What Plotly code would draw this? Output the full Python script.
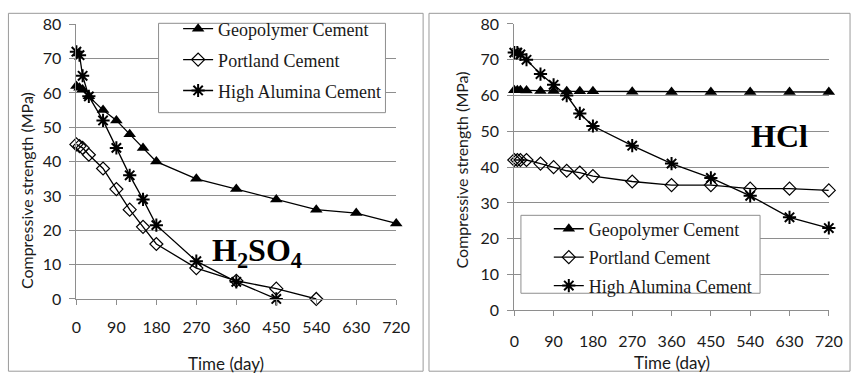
import plotly.graph_objects as go

W, H = 866, 384

# Exposure time (days) and compressive strength (MPa) in H2SO4
days_h2so4_geo = [0, 7, 14, 28, 60, 90, 120, 150, 180, 270, 360, 450, 540, 630, 720]
geo_h2so4 = [62, 61.5, 61, 59, 55, 52, 48, 44, 40, 35, 32, 29, 26, 25, 22]
days_h2so4_opc = [0, 7, 14, 28, 60, 90, 120, 150, 180, 270, 360, 450, 540]
opc_h2so4 = [45, 44.5, 44, 42, 38, 32, 26, 21, 16, 9, 5.3, 3, 0]
days_h2so4_hac = [0, 7, 14, 28, 60, 90, 120, 150, 180, 270, 360, 450]
hac_h2so4 = [72, 71, 65, 59, 52, 44, 36, 29, 21.5, 11, 5, 0]

# Exposure time (days) and compressive strength (MPa) in HCl
days_hcl = [0, 7, 14, 28, 60, 90, 120, 150, 180, 270, 360, 450, 540, 630, 720]
geo_hcl = [61.5, 61.5, 61.5, 61.4, 61.3, 61.3, 61.2, 61.2, 61.2, 61.1, 61, 61, 61, 61, 61]
opc_hcl = [42, 42, 42, 42, 41, 40, 39, 38.5, 37.5, 36, 35, 35, 34, 34, 33.5]
hac_hcl = [72, 72, 71.5, 70, 66, 63, 60, 55, 51.5, 46, 41, 37, 32, 26, 23]

series_names = ["Geopolymer Cement", "Portland Cement", "High Alumina Cement"]
x_ticks = [0, 90, 180, 270, 360, 450, 540, 630, 720]

GRID = "#8e8e8e"
TEXT = "#1a1a1a"
SANS = "Lato, Carlito, Calibri, sans-serif"
SERIF = "Liberation Serif, Cambria, serif"


def px_x(p):
    return p / W


def px_y(p):
    return 1 - p / H


markers = [
    dict(symbol="triangle-up", size=11, color="black", line=dict(width=0)),
    dict(symbol="diamond-open", size=10, color="black", line=dict(width=1.2)),
    dict(symbol="asterisk-open", size=11, color="black", line=dict(width=2)),
]

fig = go.Figure()

left = [(days_h2so4_geo, geo_h2so4), (days_h2so4_opc, opc_h2so4), (days_h2so4_hac, hac_h2so4)]
right = [(days_hcl, geo_hcl), (days_hcl, opc_hcl), (days_hcl, hac_hcl)]

for i, (xs, ys) in enumerate(left):
    fig.add_trace(go.Scatter(
        x=xs, y=ys, name=series_names[i], mode="lines+markers",
        line=dict(color="black", width=1.3), marker=markers[i],
        xaxis="x", yaxis="y", legend="legend", legendgroup=f"a{i}",
        cliponaxis=False,
    ))

for i, (xs, ys) in enumerate(right):
    fig.add_trace(go.Scatter(
        x=xs, y=ys, name=series_names[i], mode="lines+markers",
        line=dict(color="black", width=1.3), marker=markers[i],
        xaxis="x2", yaxis="y2", legend="legend2", legendgroup=f"b{i}",
        cliponaxis=False,
    ))

axis_common = dict(
    showgrid=False, showline=True, linecolor=GRID, linewidth=1,
    ticks="outside", ticklen=5, tickcolor=GRID, tickwidth=1,
    tickfont=dict(family=SANS, size=16, color=TEXT),
    zeroline=False, fixedrange=True,
)
yaxis_common = dict(
    range=[0, 80], dtick=10, showgrid=True, gridcolor=GRID, gridwidth=1,
    showline=True, linecolor=GRID, linewidth=1,
    ticks="outside", ticklen=6, tickcolor=GRID, ticklabelstandoff=5,
    tickfont=dict(family=SANS, size=16, color=TEXT),
    zeroline=False, fixedrange=True,
)

fig.update_layout(
    width=W, height=H, margin=dict(l=0, r=0, t=0, b=0),
    paper_bgcolor="white", plot_bgcolor="white",
    showlegend=True,
    xaxis=dict(domain=[px_x(73), px_x(400)], range=[0, 720], tickvals=x_ticks,
               anchor="y", ticklabelstandoff=9, **axis_common),
    yaxis=dict(domain=[px_y(304), px_y(15)], anchor="x", **yaxis_common),
    xaxis2=dict(domain=[px_x(520.7), px_x(842.3)], range=[0, 720], tickvals=x_ticks,
                anchor="y2", ticklabelstandoff=11, **axis_common),
    yaxis2=dict(domain=[px_y(316), px_y(14.7)], anchor="x2", **yaxis_common),
    legend=dict(x=px_x(177), y=px_y(0.5), xanchor="left", yanchor="top",
                bgcolor="rgba(0,0,0,0)", borderwidth=0, tracegroupgap=4.5,
                font=dict(family=SERIF, size=18, color=TEXT)),
    legend2=dict(x=px_x(556), y=px_y(211), xanchor="left", yanchor="top",
                 bgcolor="rgba(0,0,0,0)", borderwidth=0, tracegroupgap=2,
                 font=dict(family=SERIF, size=18, color=TEXT)),
)

# panel frames and legend boxes
shapes = [
    dict(type="rect", xref="paper", yref="paper", x0=px_x(3.5), x1=px_x(427.5),
         y0=px_y(380), y1=px_y(3.5), line=dict(color="#9a9a9a", width=1), layer="below"),
    dict(type="rect", xref="paper", yref="paper", x0=px_x(433.5), x1=px_x(864),
         y0=px_y(380), y1=px_y(3.5), line=dict(color="#9a9a9a", width=1), layer="below"),
    dict(type="rect", xref="paper", yref="paper", x0=px_x(157), x1=px_x(389),
         y0=px_y(108), y1=px_y(14), line=dict(color=GRID, width=1),
         fillcolor="white", layer="above"),
    dict(type="rect", xref="paper", yref="paper", x0=px_x(527.5), x1=px_x(772),
         y0=px_y(298), y1=px_y(216), line=dict(color=GRID, width=1),
         fillcolor="white", layer="above"),
]
fig.update_layout(shapes=shapes)

annotations = [
    dict(text="Time (day)", x=px_x(226), y=px_y(372), font=dict(family=SANS, size=17, color=TEXT)),
    dict(text="Time (day)", x=px_x(682), y=px_y(371), font=dict(family=SANS, size=17, color=TEXT)),
    dict(text="Compressive strength (MPa)", x=px_x(22), y=px_y(190), textangle=-90,
         font=dict(family=SANS, size=16, color=TEXT)),
    dict(text="Compressive strength (MPa)", x=px_x(467), y=px_y(168), textangle=-90,
         font=dict(family=SANS, size=16, color=TEXT)),
    dict(text="<b>H<sub>2</sub>SO<sub>4</sub></b>", x=px_x(258), y=px_y(255),
         font=dict(family="Liberation Serif, Times New Roman, serif", size=32, color="black")),
    dict(text="<b>HCl</b>", x=px_x(792), y=px_y(133),
         font=dict(family="Liberation Serif, Times New Roman, serif", size=32, color="black")),
]
for a in annotations:
    a.update(xref="paper", yref="paper", showarrow=False, xanchor="center", yanchor="middle")
fig.update_layout(annotations=annotations)

fig.write_html("out.html")
